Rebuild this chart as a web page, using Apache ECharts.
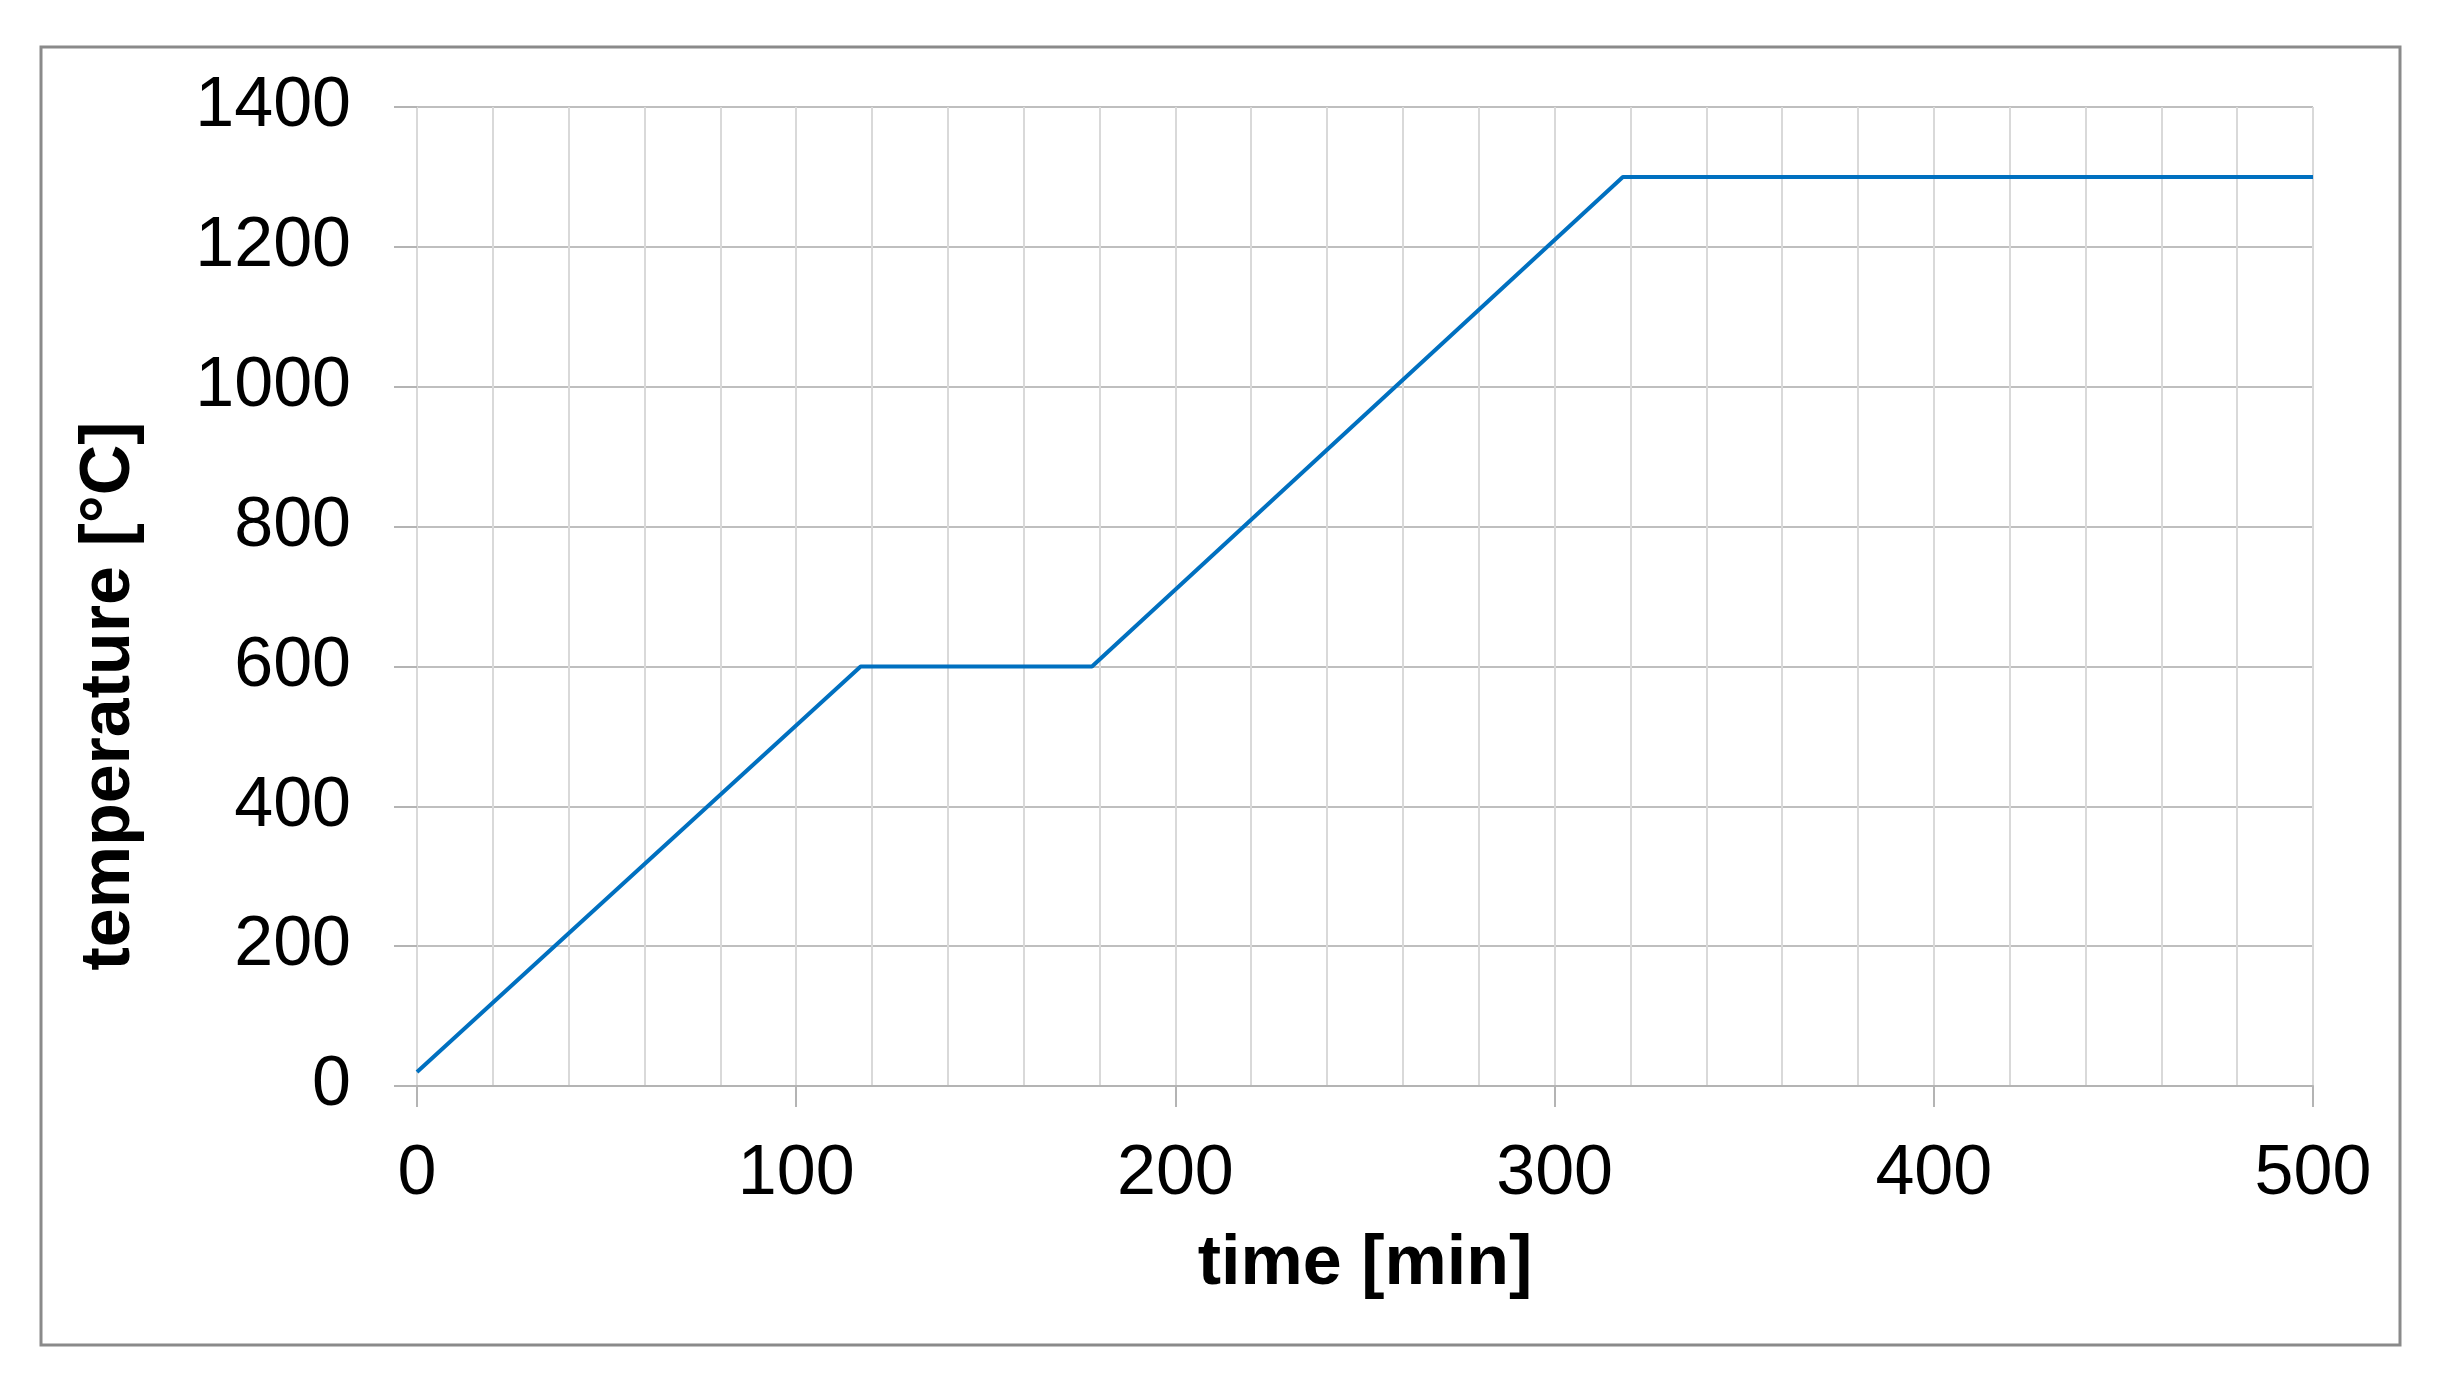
<!DOCTYPE html>
<html>
<head>
    <title>temperature profile</title>
    <meta http-equiv="content-type" content="text/html; charset=utf-8">
    <script src="https://cdn.jsdelivr.net/npm/echarts@6/dist/echarts.min.js"></script>
    <style type="text/css">
        html, body { margin: 0; padding: 0; background: #fff; }
        #main { width: 2444px; height: 1381px; }
    </style>
</head>
<body>
    <div id="main"></div>
    <script type="text/javascript">
        // heating schedule
        var timeMin = [0, 117, 178, 318, 500];
        var tempC = [20, 600, 600, 1300, 1300];
        var xName = 'time [min]';
        var yName = 'temperature [°C]';

        var font = '"Liberation Sans", Arial, sans-serif';
        var points = timeMin.map(function (t, i) { return [t, tempC[i]]; });

        var chart = echarts.init(document.getElementById('main'));
        var option = {
            backgroundColor: '#ffffff',
            animation: false,
            grid: { left: 417, right: 131, top: 107, bottom: 295 },
            graphic: [
                {
                    type: 'rect',
                    shape: { x: 41, y: 47, width: 2359, height: 1298 },
                    style: { fill: 'none', stroke: '#8a8a8a', lineWidth: 3 },
                    silent: true
                },
                {
                    type: 'text',
                    x: 110,
                    y: 696,
                    rotation: Math.PI / 2,
                    style: {
                        text: yName,
                        fontFamily: font,
                        fontSize: 70,
                        fontWeight: 'bold',
                        fill: '#000',
                        textAlign: 'center',
                        textVerticalAlign: 'middle'
                    },
                    silent: true
                }
            ],
            xAxis: {
                type: 'value',
                min: 0,
                max: 500,
                interval: 100,
                name: xName,
                nameLocation: 'middle',
                nameGap: 144,
                nameTextStyle: { fontFamily: font, fontSize: 70, fontWeight: 'bold', color: '#000' },
                axisLine: { show: true, lineStyle: { color: '#b4b4b4', width: 2 } },
                axisTick: { show: true, length: 21, lineStyle: { color: '#b4b4b4', width: 2 } },
                axisLabel: {
                    fontFamily: font, fontSize: 70, color: '#000', margin: 54,
                    formatter: function (v) { return String(v); }
                },
                splitLine: { show: true, lineStyle: { color: '#d9d9d9', width: 2 } },
                minorTick: { show: false, splitNumber: 5 },
                minorSplitLine: { show: true, lineStyle: { color: '#d9d9d9', width: 2 } }
            },
            yAxis: {
                type: 'value',
                min: 0,
                max: 1400,
                interval: 200,
                axisLine: { show: false },
                axisTick: { show: true, length: 23, lineStyle: { color: '#b4b4b4', width: 2 } },
                axisLabel: {
                    fontFamily: font, fontSize: 70, color: '#000', margin: 66,
                    formatter: function (v) { return String(v); }
                },
                splitLine: { show: true, lineStyle: { color: '#bfbfbf', width: 2 } }
            },
            series: [{
                type: 'line',
                data: points,
                showSymbol: false,
                symbol: 'none',
                lineStyle: { color: '#0070c0', width: 4 },
                z: 5
            }]
        };
        chart.setOption(option);
    </script>
</body>
</html>
